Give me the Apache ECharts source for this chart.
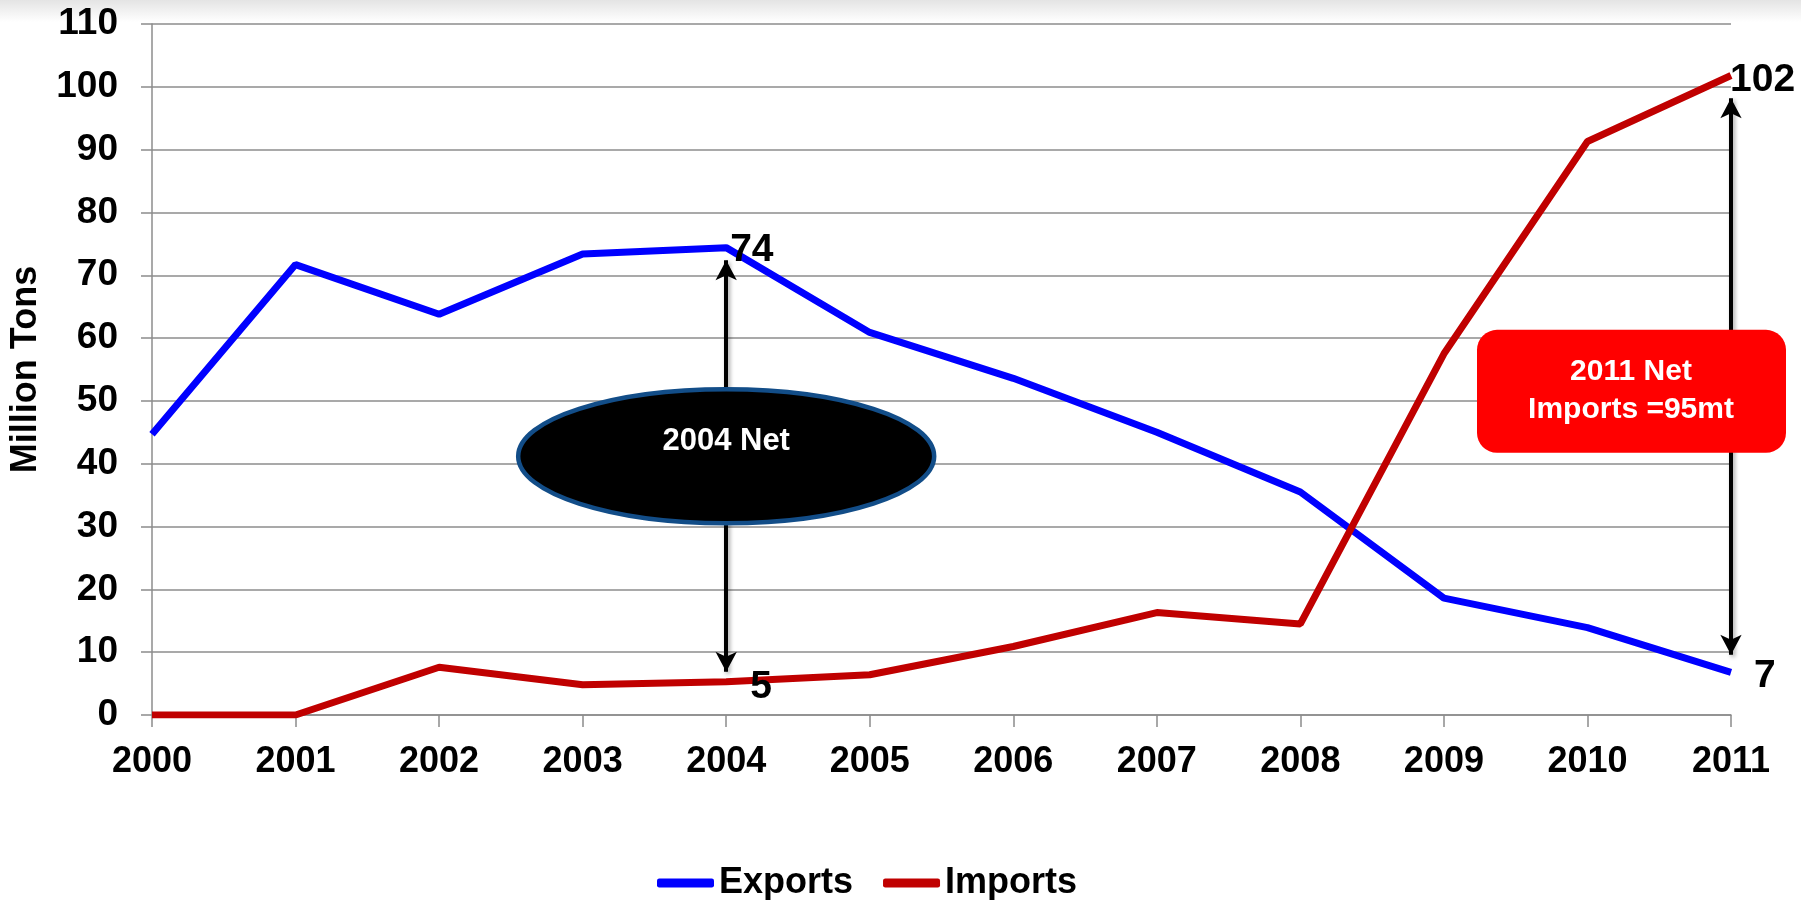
<!DOCTYPE html>
<html>
<head>
<meta charset="utf-8">
<script src="https://cdn.jsdelivr.net/npm/echarts@6/dist/echarts.min.js"></script>
<style>
    html, body { margin: 0; padding: 0; background: #fff; }
    #main { width: 1801px; height: 900px; }
</style>
</head>
<body>
<div id="main"></div>
<script>
// data
var years = ['2000', '2001', '2002', '2003', '2004', '2005', '2006', '2007', '2008', '2009', '2010', '2011'];
var exportsVals = [44.7, 71.7, 63.8, 73.4, 74.4, 60.9, 53.6, 45.0, 35.5, 18.6, 13.9, 6.8];
var importsVals = [0, 0, 7.6, 4.8, 5.3, 6.4, 10.9, 16.3, 14.5, 57.5, 91.3, 101.8];
var yTicks = { min: 0, max: 110, step: 10 };
var netArrows = [
    { year: '2004', from: 72.4, to: 6.9 },
    { year: '2011', from: 98.2, to: 9.6 }
];

var FONT = "'Liberation Sans', Arial, sans-serif";
var chart = echarts.init(document.getElementById('main'), null, { renderer: 'canvas' });

var option = {
    backgroundColor: '#fff',
    animation: false,
    grid: { left: 152, right: 70, top: 24, bottom: 185, containLabel: false, outerBoundsMode: 'none' },
    legend: {
        left: 652,
        top: 860,
        icon: 'roundRect',
        itemWidth: 57,
        itemHeight: 9,
        itemGap: 30,
        textStyle: { fontFamily: FONT, fontWeight: 'bold', fontSize: 36, color: '#000' },
        data: ['Exports', 'Imports']
    },
    xAxis: {
        type: 'category',
        data: years,
        boundaryGap: false,
        axisLine: { lineStyle: { color: '#8c8c8c', width: 1.5 } },
        axisTick: { show: true, length: 12, lineStyle: { color: '#8c8c8c', width: 1.5 } },
        axisLabel: { margin: 29, fontFamily: FONT, fontWeight: 'bold', fontSize: 36, color: '#000' },
        splitLine: { show: false }
    },
    yAxis: {
        type: 'value',
        min: yTicks.min,
        max: yTicks.max,
        interval: yTicks.step,
        name: 'Million Tons',
        nameLocation: 'middle',
        nameGap: 108,
        nameTextStyle: { fontFamily: FONT, fontWeight: 'bold', fontSize: 36, color: '#000' },
        axisLine: { show: true, lineStyle: { color: '#8c8c8c', width: 1.5 } },
        axisTick: { show: true, length: 11, lineStyle: { color: '#8c8c8c', width: 1.5 } },
        axisLabel: { margin: 34, fontFamily: FONT, fontWeight: 'bold', fontSize: 37, color: '#000' },
        splitLine: { show: true, lineStyle: { color: '#8c8c8c', width: 1.5 } }
    },
    series: [
        {
            name: 'Exports',
            type: 'line',
            data: exportsVals,
            symbol: 'none',
            lineStyle: { color: '#0000ff', width: 7 },
            itemStyle: { color: '#0000ff' },
            z: 3,
            markLine: {
                silent: true,
                symbol: ['arrow', 'arrow'],
                symbolSize: [16, 20],
                label: { show: false },
                lineStyle: {
                    color: '#000', width: 4, type: 'solid',
                    shadowColor: 'rgba(0,0,0,0.35)', shadowBlur: 4, shadowOffsetX: 2, shadowOffsetY: 2
                },
                data: netArrows.map(function (a) {
                    return [{ coord: [a.year, a.from] }, { coord: [a.year, a.to] }];
                })
            }
        },
        {
            name: 'Imports',
            type: 'line',
            data: importsVals,
            symbol: 'none',
            lineStyle: { color: '#c00000', width: 7 },
            itemStyle: { color: '#c00000' },
            z: 3
        }
    ]
};
chart.setOption(option);

//annotations placed from axis coordinates
function px(year, v) {
    return chart.convertToPixel({ xAxisIndex: 0, yAxisIndex: 0 }, [year, v]);
}
var p04top = px('2004', exportsVals[4]);
var p04bot = px('2004', importsVals[4]);
var p11top = px('2011', importsVals[11]);
var p11bot = px('2011', exportsVals[11]);
var pEll = px('2004', 41.2);
var pBox = px('2011', 51.6);

var numStyle = { fontFamily: FONT, fontWeight: 'bold', fontSize: 39, fill: '#000' };

chart.setOption({
    graphic: [
        {
            type: 'rect', z: -10, silent: true,
            shape: { x: 0, y: 0, width: 1801, height: 22 },
            style: {
                fill: new echarts.graphic.LinearGradient(0, 0, 0, 1, [
                    { offset: 0, color: '#e4e4e4' }, { offset: 1, color: '#ffffff' }
                ])
            }
        },
        {
            type: 'ellipse', z: 100, silent: true,
            shape: { cx: pEll[0], cy: pEll[1], rx: 208, ry: 67 },
            style: { fill: '#000', stroke: '#124d88', lineWidth: 4.5 }
        },
        {
            type: 'text', z: 101, silent: true,
            x: pEll[0], y: pEll[1] - 15,
            style: { text: '2004 Net', fontFamily: FONT, fontWeight: 'bold', fontSize: 31, fill: '#fff', align: 'center', verticalAlign: 'middle' }
        },
        {
            type: 'rect', z: 100, silent: true,
            shape: { x: pBox[0] - 254, y: pBox[1] - 61, width: 309, height: 123, r: 20 },
            style: { fill: '#ff0000' }
        },
        {
            type: 'text', z: 101, silent: true,
            x: pBox[0] - 100, y: pBox[1] - 19,
            style: { text: '2011 Net', fontFamily: FONT, fontWeight: 'bold', fontSize: 30, fill: '#fff', align: 'center', verticalAlign: 'middle' }
        },
        {
            type: 'text', z: 101, silent: true,
            x: pBox[0] - 100, y: pBox[1] + 19,
            style: { text: 'Imports =95mt', fontFamily: FONT, fontWeight: 'bold', fontSize: 30, fill: '#fff', align: 'center', verticalAlign: 'middle' }
        },
        {
            type: 'text', z: 101, silent: true,
            x: p04top[0] + 4, y: p04top[1] + 3,
            style: Object.assign({ text: '74', align: 'left', verticalAlign: 'middle' }, numStyle)
        },
        {
            type: 'text', z: 101, silent: true,
            x: p04bot[0] + 24, y: p04bot[1] + 6,
            style: Object.assign({ text: '5', align: 'left', verticalAlign: 'middle' }, numStyle)
        },
        {
            type: 'text', z: 101, silent: true,
            x: p11top[0] - 1, y: p11top[1] + 5,
            style: Object.assign({ text: '102', align: 'left', verticalAlign: 'middle' }, numStyle)
        },
        {
            type: 'text', z: 101, silent: true,
            x: p11bot[0] + 23, y: p11bot[1] + 4,
            style: Object.assign({ text: '7', align: 'left', verticalAlign: 'middle' }, numStyle)
        }
    ]
});
</script>
</body>
</html>
